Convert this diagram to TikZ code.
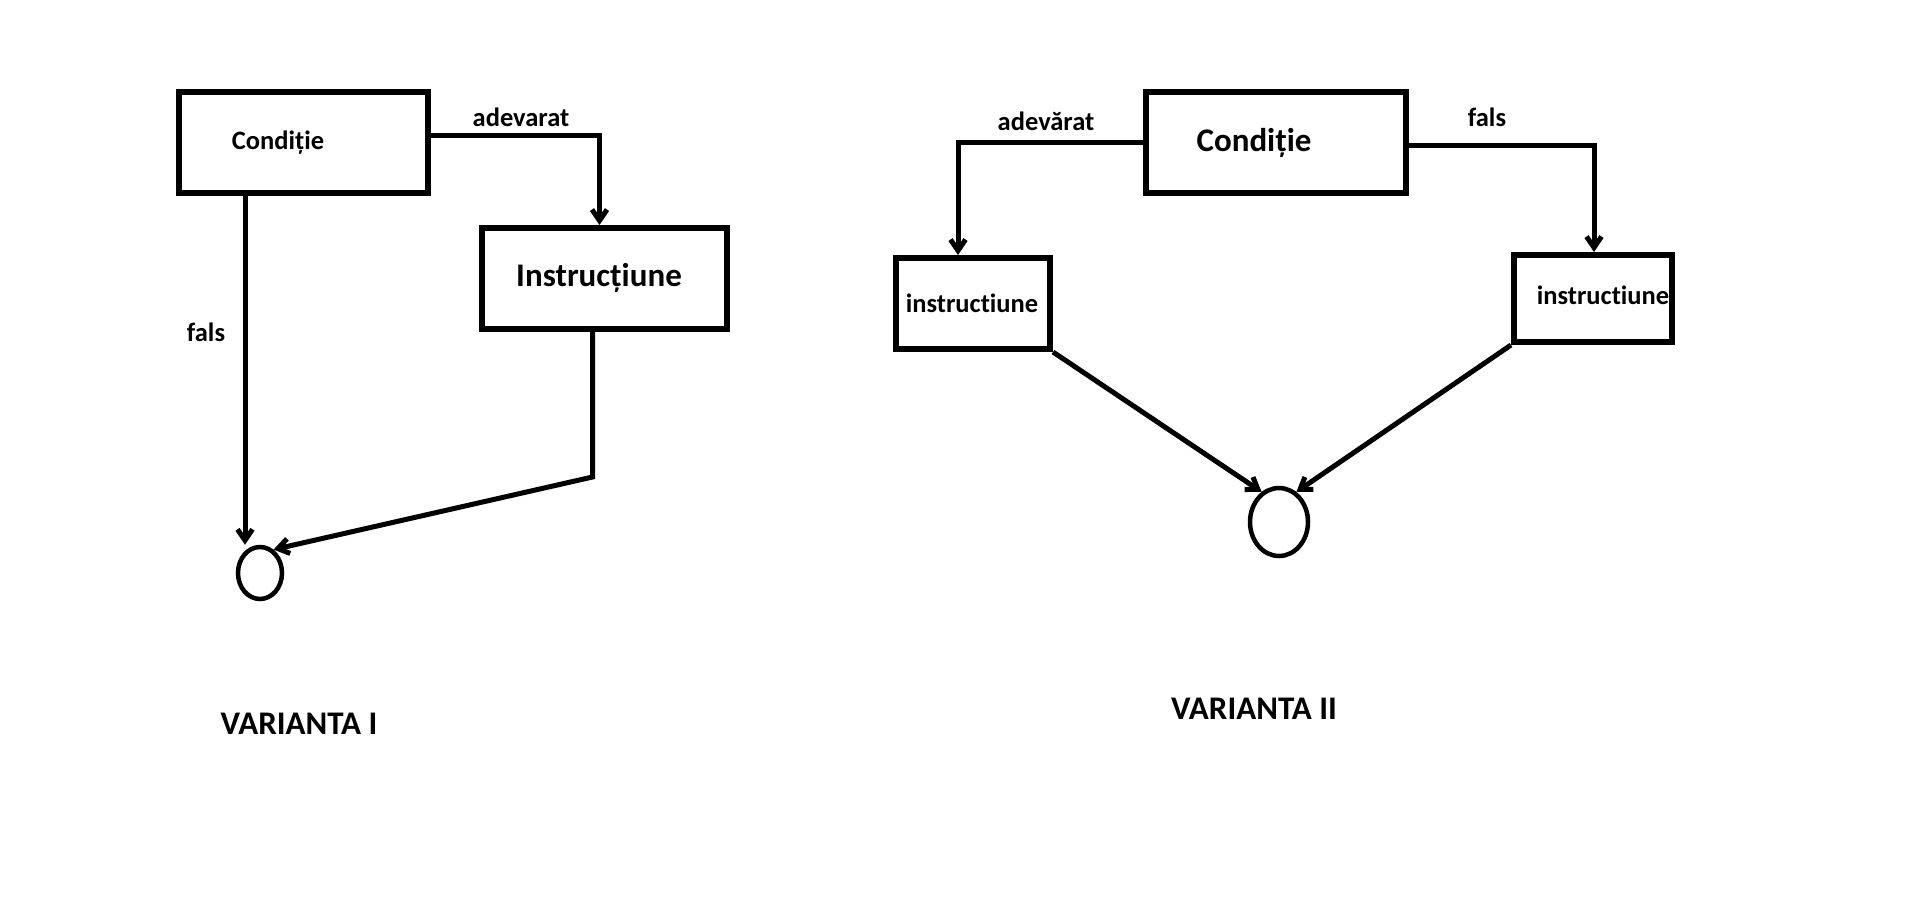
\documentclass[tikz,border=0pt]{standalone}
\usepackage{fontspec}
\setmainfont{Carlito}[Ligatures=NoCommon]
\usetikzlibrary{arrows.meta,shapes.geometric}
\begin{document}
\begin{tikzpicture}[x=1pt,y=-1pt,
  boxn/.style={draw,line width=6pt,rectangle,inner sep=0pt},
  circn/.style={draw,line width=4.5pt,ellipse,inner sep=0pt},
  conn/.style={line width=5pt},
  arr/.style={conn,-{Straight Barb[length=11pt,width=15pt]}},
  tsmall/.style={font=\fontsize{26.5}{30}\selectfont\bfseries,inner sep=0pt},
  tbig/.style={font=\fontsize{33}{38}\selectfont\bfseries,inner sep=0pt}]
\useasboundingbox (0,0) rectangle (1914,919);
% VARIANTA I
\node[boxn,minimum width=249pt,minimum height=101pt] (cond1) at (303.5,142.5) {};
\node[boxn,minimum width=245pt,minimum height=101pt] (instr1) at (604.5,278.5) {};
\node[circn,minimum width=44pt,minimum height=52pt] (c1) at (260,573) {};
\node[tsmall] (tcond1) at (278,143) {Condiție};
\node[tbig] (tinstr1) at (599,278) {Instrucțiune};
\node[tsmall] (ladev1) at (521,117) {adevarat};
\node[tsmall] (lfals1) at (206,332) {fals};
\node[tbig] (var1) at (299,724) {VARIANTA I};
\draw[arr] ([yshift=7.5pt]cond1.east) -| ([xshift=-5pt]instr1.north);
\draw[arr] ([xshift=-58.5pt]cond1.south) -- ([xshift=-15pt]c1.north);
\draw[arr] ([xshift=-12pt]instr1.south) -- ++(0,145) -- (c1.60);
% VARIANTA II
\node[boxn,minimum width=260pt,minimum height=101pt] (cond2) at (1276,142.5) {};
\node[boxn,minimum width=154pt,minimum height=91pt] (instr2a) at (973,303.5) {};
\node[boxn,minimum width=158pt,minimum height=87pt] (instr2b) at (1593,298.5) {};
\node[circn,minimum width=58pt,minimum height=68pt] (c2) at (1279,522) {};
\node[tbig] (tcond2) at (1254,143) {Condiție};
\node[tsmall] (tinstr2a) at (972,303) {instructiune};
\node[tsmall] (tinstr2b) at (1603,295) {instructiune};
\node[tsmall] (ladev2) at (1046,121) {adevărat};
\node[tsmall] (lfals2) at (1487,117) {fals};
\node[tbig] (var2) at (1254,709) {VARIANTA II};
\draw[arr] (cond2.west) -| ([xshift=-15pt]instr2a.north);
\draw[arr] ([yshift=-2.5pt]cond2.east) -| ([xshift=1pt]instr2b.north);
\draw[arr] (instr2a.south east) -- (c2.120);
\draw[arr] (instr2b.south west) -- (c2.60);
\end{tikzpicture}
\end{document}
